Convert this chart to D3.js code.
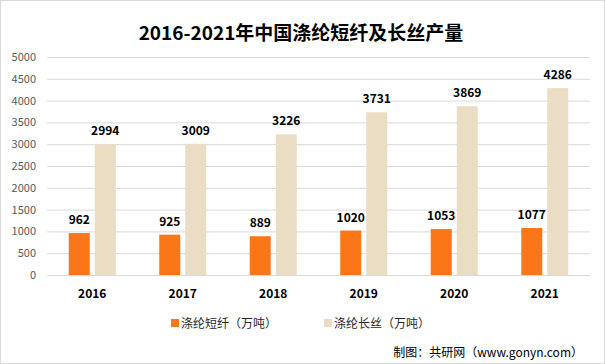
<!DOCTYPE html>
<html><head><meta charset="utf-8">
<script src="https://cdn.jsdelivr.net/npm/d3@7"></script>
<style>body{margin:0;background:#fff;}svg{display:block;font-family:"Microsoft YaHei","Noto Sans CJK SC",sans-serif;}</style>
</head><body><svg id="c" width="605" height="364"></svg>
<script>
const categories = ["2016","2017","2018","2019","2020","2021"];
const seriesNames = ["涤纶短纤（万吨）","涤纶长丝（万吨）"];
const shortFiber = [962,925,889,1020,1053,1077];
const filament = [2994,3009,3226,3731,3869,4286];
const yTicks = [0,500,1000,1500,2000,2500,3000,3500,4000,4500,5000];
const colors = ["#FA7617","#EADDC3"];

const svg = d3.select("#c");
svg.append("rect").attr("x",0.5).attr("y",0.5).attr("width",604).attr("height",363).attr("fill","#fff").attr("stroke","#d9d9d9");

svg.append("text").attr("x",301).attr("y",40).attr("text-anchor","middle")
  .attr("font-size",19).attr("font-weight","bold").attr("fill","#000").text("2016-2021年中国涤纶短纤及长丝产量");

const x = d3.scaleBand().domain(categories).range([47,590]);
const y = d3.scaleLinear().domain([0,5000]).range([275,57]);

const grid = svg.append("g");
grid.selectAll("line").data(yTicks).join("line")
  .attr("x1",47).attr("x2",590).attr("y1",d=>y(d)+0.5).attr("y2",d=>y(d)+0.5)
  .attr("stroke","#d9d9d9").attr("stroke-width",1);

const yAxis = svg.append("g").attr("transform","translate(40,0)")
  .call(d3.axisLeft(y).tickValues(yTicks).tickFormat(d3.format("d")).tickSize(0).tickPadding(4));
yAxis.select(".domain").remove();
yAxis.selectAll("text").attr("font-size",11).attr("fill","#595959").attr("font-family","'Microsoft YaHei','Noto Sans CJK SC',sans-serif");

const xAxis = svg.append("g").attr("transform","translate(0,275)")
  .call(d3.axisBottom(x).tickSize(0).tickPadding(14));
xAxis.select(".domain").remove();
xAxis.selectAll("text").attr("font-size",12).attr("font-weight","bold").attr("fill","#000").attr("font-family","'Microsoft YaHei','Noto Sans CJK SC',sans-serif");

const bw = 21, gap = 5;
const series = [shortFiber, filament];
series.forEach((vals,si)=>{
  const g = svg.append("g");
  const bx = c => x(c)+x.bandwidth()/2 + (si===0 ? -(bw+gap/2) : gap/2);
  g.selectAll("rect").data(categories).join("rect")
    .attr("x",(c)=>bx(c)).attr("width",bw)
    .attr("y",(c,i)=>y(vals[i])).attr("height",(c,i)=>y(0)-y(vals[i]))
    .attr("fill",colors[si]);
  g.selectAll("text").data(categories).join("text")
    .attr("x",c=>bx(c)+bw/2).attr("y",(c,i)=>y(vals[i])-9)
    .attr("text-anchor","middle").attr("font-size",12).attr("font-weight","bold").attr("fill","#000")
    .text((c,i)=>vals[i]);
});

const legend = svg.append("g");
const lx = [171,324];
seriesNames.forEach((n,i)=>{
  legend.append("rect").attr("x",lx[i]).attr("y",319).attr("width",8).attr("height",8).attr("fill",colors[i]);
  legend.append("text").attr("x",lx[i]+10).attr("y",328).attr("font-size",12).attr("fill","#262626").text(n);
});

svg.append("text").attr("x",583).attr("y",357).attr("text-anchor","end").attr("font-size",12).attr("fill","#000")
  .text("制图：共研网（www.gonyn.com）");
</script></body></html>
